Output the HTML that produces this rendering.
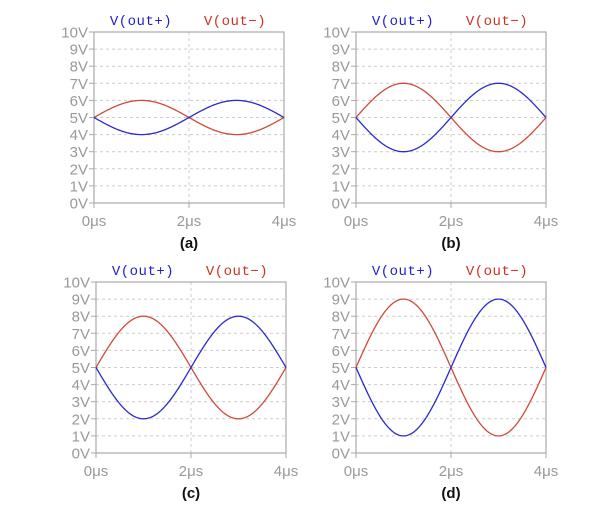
<!DOCTYPE html>
<html><head><style>html,body{margin:0;padding:0;background:#fff}svg{display:block}</style></head>
<body>
<svg id="s" width="600" height="521" xmlns="http://www.w3.org/2000/svg" font-family="Liberation Sans, sans-serif"></svg>
<script>
const s=document.getElementById('s');
const panels=[[94,32,1,'(a)'],[356,32,2,'(b)'],[96,282,3,'(c)'],[356,282,4,'(d)']];
let h='';
const W=190,H=171;
for(const [x0,y0,A,lab] of panels){
  const yb=y0+H, sc=H/10;
  for(let v=1;v<10;v++){const y=yb-v*sc;h+=`<line x1="${x0}" y1="${y}" x2="${x0+W}" y2="${y}" stroke="#ccc" stroke-dasharray="3,3"/>`;}
  h+=`<line x1="${x0+W/2}" y1="${y0}" x2="${x0+W/2}" y2="${yb}" stroke="#ccc" stroke-dasharray="3,3"/>`;
  h+=`<rect x="${x0}" y="${y0}" width="${W}" height="${H}" fill="none" stroke="#aaa" stroke-width="1.2"/>`;
  for(let v=0;v<=10;v++){const y=yb-v*sc;h+=`<line x1="${x0-5}" y1="${y}" x2="${x0}" y2="${y}" stroke="#aaa"/><text x="${x0-6}" y="${y+5.5}" text-anchor="end" font-size="15" fill="#999">${v}V</text>`;}
  [0,2,4].forEach((t,i)=>{const x=x0+i*W/2;h+=`<line x1="${x}" y1="${yb}" x2="${x}" y2="${yb+5}" stroke="#aaa"/><text x="${x}" y="${yb+23}" text-anchor="middle" font-size="15" fill="#999">${t}μs</text>`;});
  let pb='',pr='';
  for(let i=0;i<=200;i++){const x=x0+i*W/200,ph=i/200*2*Math.PI;
    pb+=(i?'L':'M')+x.toFixed(2)+','+(yb-(5-A*Math.sin(ph))*sc).toFixed(2);
    pr+=(i?'L':'M')+x.toFixed(2)+','+(yb-(5+A*Math.sin(ph))*sc).toFixed(2);}
  h+=`<path d="${pr}" fill="none" stroke="#d04a3a" stroke-width="1.3"/><path d="${pb}" fill="none" stroke="#2a2ad0" stroke-width="1.3"/>`;
  h+=`<text x="${x0+47}" y="${y0-7}" text-anchor="middle" font-size="14" letter-spacing="0.5" font-family="Liberation Mono, monospace" fill="#2222cc">V(out+)</text>`;
  h+=`<text x="${x0+141}" y="${y0-7}" text-anchor="middle" font-size="14" letter-spacing="0.5" font-family="Liberation Mono, monospace" fill="#cc3322">V(out−)</text>`;
  h+=`<text x="${x0+W/2}" y="${yb+45}" text-anchor="middle" font-size="15" font-weight="bold" fill="#111">${lab}</text>`;
}
s.innerHTML=h;
</script>
</body></html>
